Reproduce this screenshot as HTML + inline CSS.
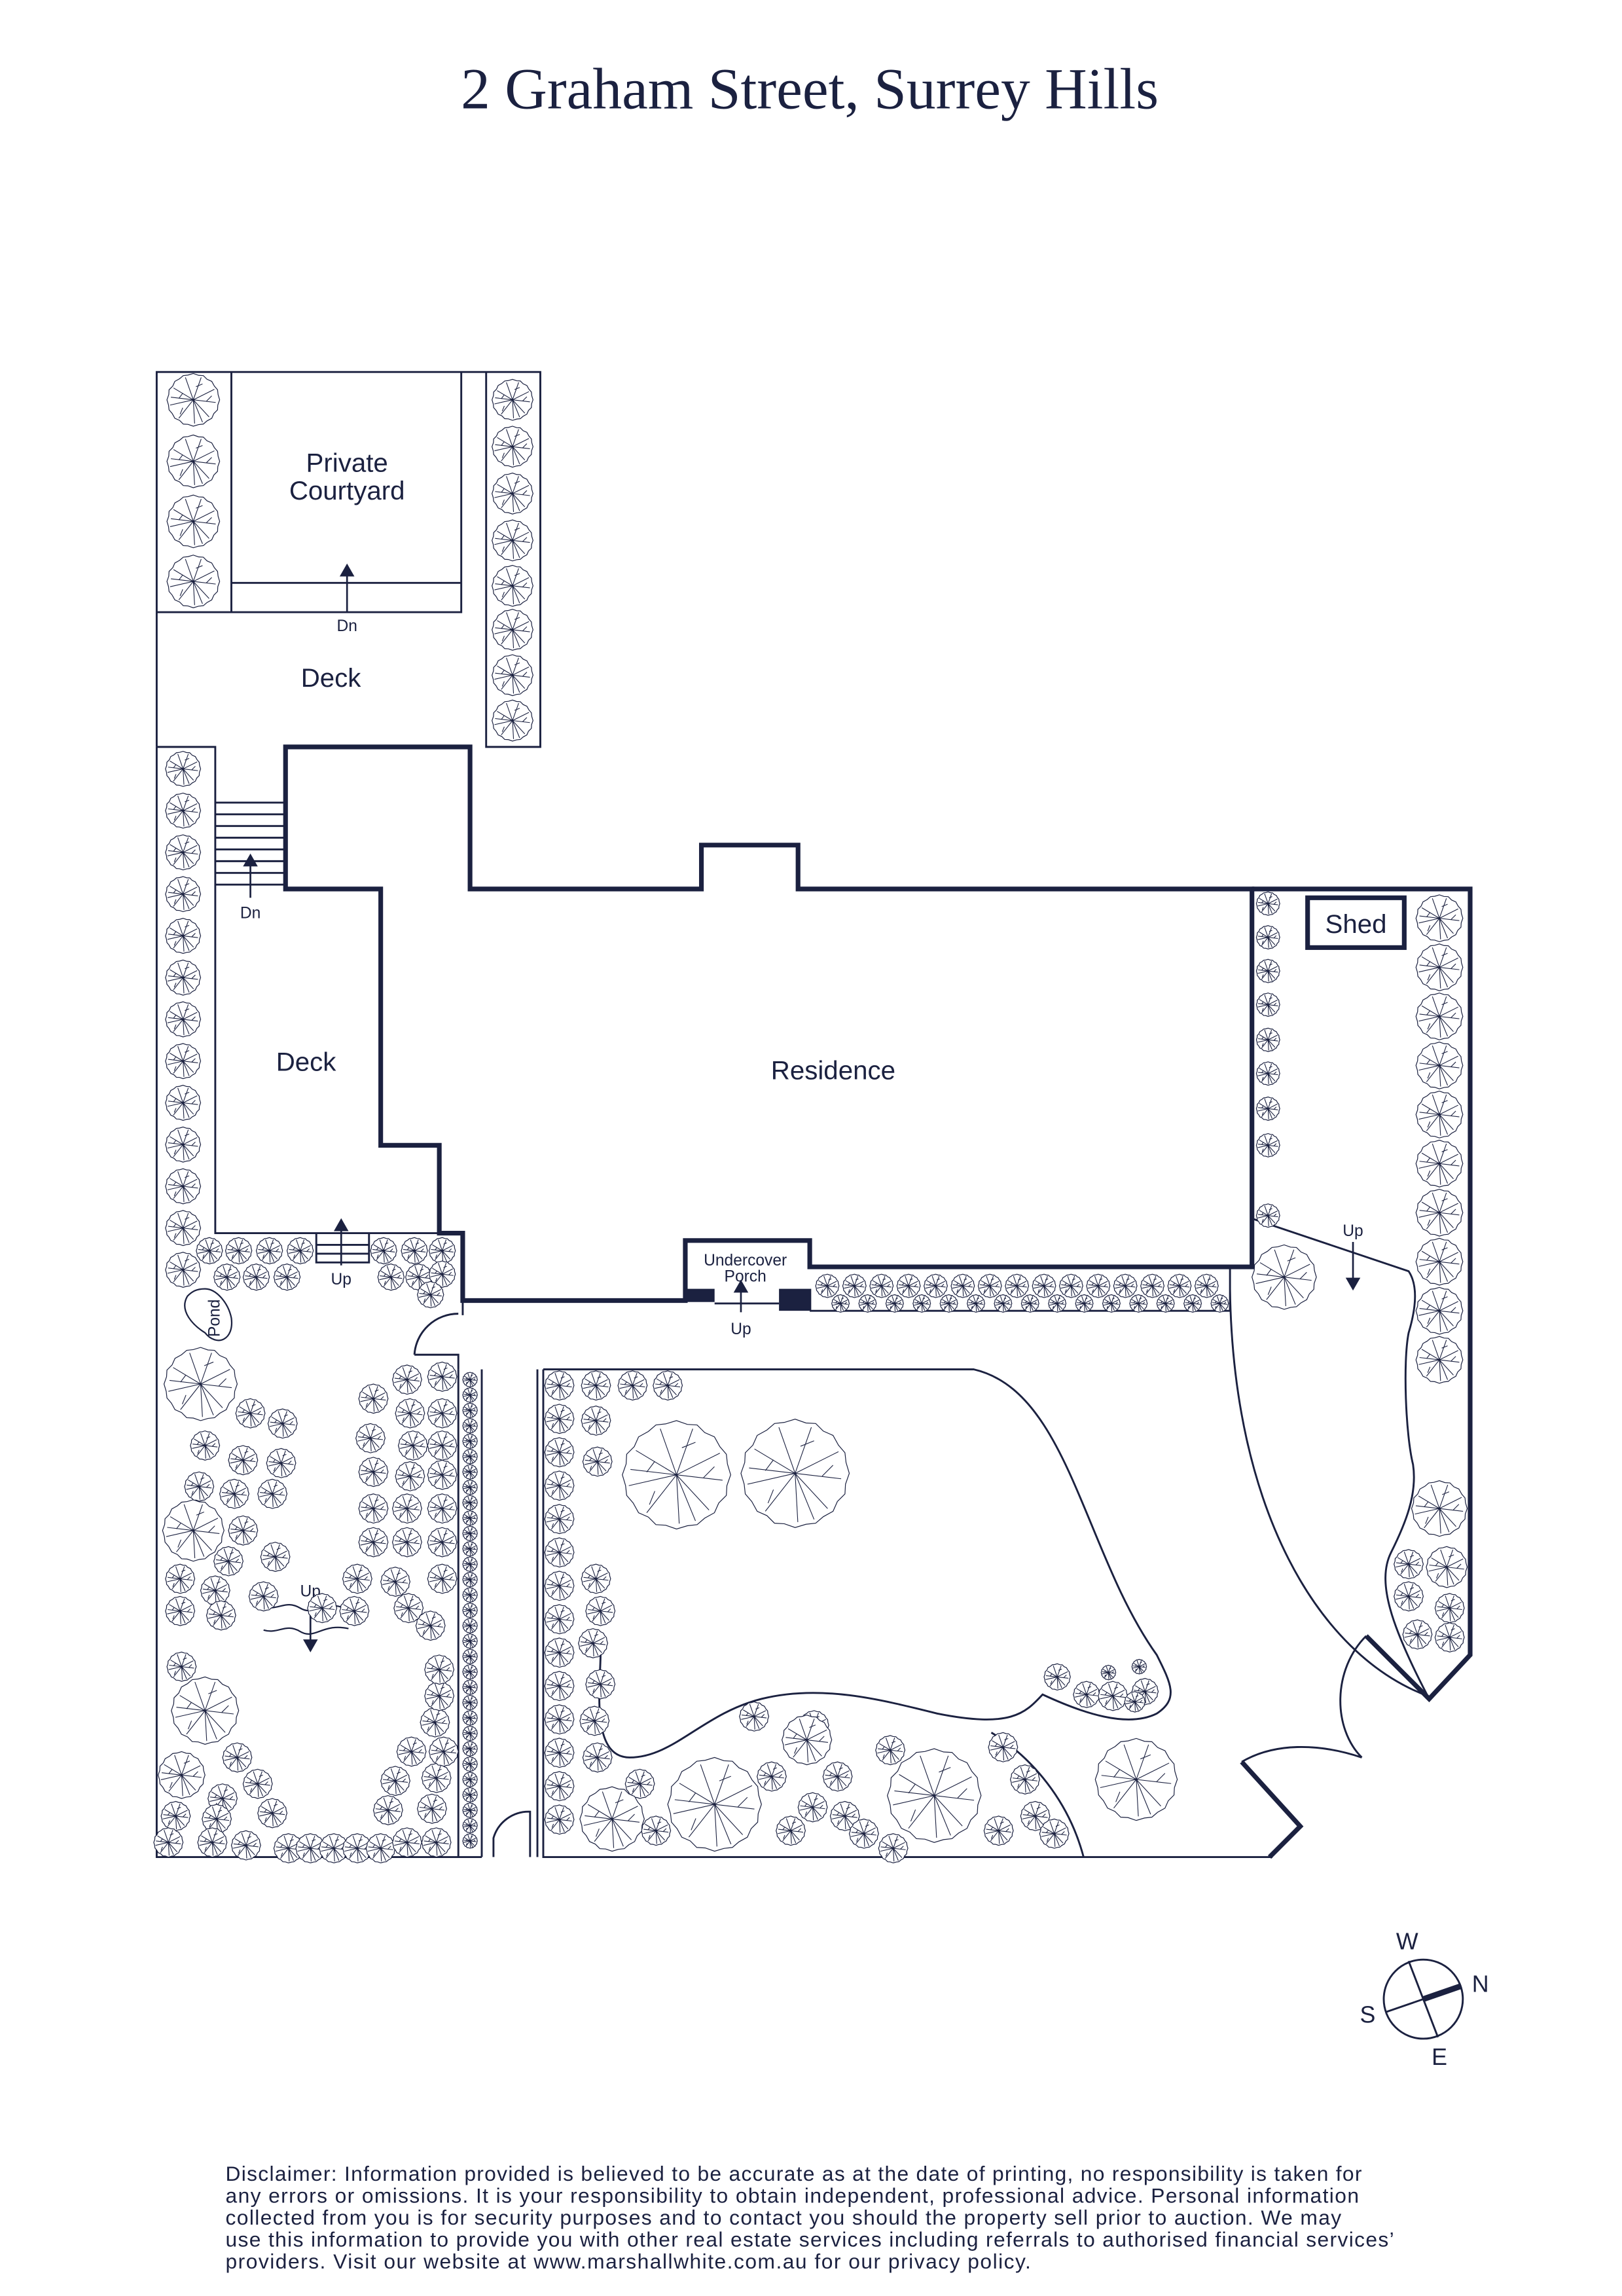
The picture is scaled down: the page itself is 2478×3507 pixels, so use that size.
<!DOCTYPE html>
<html><head><meta charset="utf-8"><style>
html,body{margin:0;padding:0;background:#fff}
svg{display:block}
text{font-family:"Liberation Sans","DejaVu Sans",sans-serif;fill:#1b2140}
</style></head><body>
<svg id="s" xmlns="http://www.w3.org/2000/svg" width="2478" height="3507" viewBox="0 0 1107.7 1567.7">
<defs>
<symbol id="t" viewBox="-1.1 -1.1 2.2 2.2" overflow="visible">
<polygon points="1,0 0.93,0.2 0.92,0.38 0.78,0.52 0.7,0.7 0.52,0.8 0.38,0.92 0.2,0.94 0,1 -0.2,0.93 -0.38,0.92 -0.52,0.78 -0.7,0.7 -0.8,0.52 -0.92,0.38 -0.94,0.2 -1,0 -0.93,-0.2 -0.92,-0.38 -0.78,-0.52 -0.7,-0.7 -0.52,-0.8 -0.38,-0.92 -0.2,-0.94 0,-1 0.2,-0.93 0.38,-0.92 0.52,-0.78 0.7,-0.7 0.8,-0.52 0.92,-0.38 0.94,-0.2" fill="#fff" stroke="#1b2140" stroke-width="1.2" vector-effect="non-scaling-stroke"/>
<path d="M0 0L0.85 0.1M0 0L0.6 0.65M0 0L0.05 0.9M0 0L-0.55 0.7M0 0L-0.88 0.2M0 0L-0.75 -0.45M0 0L-0.3 -0.85M0 0L0.3 -0.85M0 0L0.8 -0.4M0 0L0.35 0.85M0 0L-0.85 -0.1M0.5 0.05L0.7 -0.15M-0.4 0.3L-0.5 0.55M0.1 -0.5L0.35 -0.6M-0.4 -0.25L-0.55 -0.05" stroke="#1b2140" stroke-width="1.1" fill="none" vector-effect="non-scaling-stroke"/>
</symbol>
</defs>
<text x="553" y="74" text-anchor="middle" style="font-family:'Liberation Serif',serif;font-size:40px">2 Graham Street, Surrey Hills</text>

<g fill="none" stroke="#1b2140" stroke-width="1.3">
<path d="M107 510V254H369V510H332V254M158 254V418H315V254M158 398H315M107 418H158"/>
<path d="M107 510H147V842H300M107 510V1268H329M313 935V1268M329 935V1268"/>
<path d="M147 548H195M147 556H195M147 564H195M147 572H195M147 580H195M147 588H195M147 596H195M147 604H195"/>
<path d="M216 842V862H252V842M216 850H252M216 856H252"/>
<path d="M316 888V898M283 925A30 30 0 0 1 313 897M283 925H313V935"/>
<path d="M337 1268V1255A25 25 0 0 1 362 1237V1268"/>
<path d="M367 1268V935M371 935H665C730 950 740 1060 790 1130C800 1150 805 1160 790 1170C770 1180 740 1170 712 1157C700 1170 690 1180 640 1170C600 1160 560 1150 520 1160C480 1170 460 1200 430 1200C400 1200 412 1140 410 1120"/>
<path d="M371 935V1268H869M677 1183C705 1200 730 1230 740 1268"/>
<path d="M553 895H840M840 865V895M840 880C842 1030 900 1130 975 1158"/>
<path d="M855 832L962 868C970 880 965 900 962 910C958 930 960 980 965 1000C968 1020 960 1040 950 1060C940 1080 950 1110 975 1158"/>
<path d="M933 1117C910 1140 910 1180 930 1200M848 1203C870 1190 900 1190 930 1200"/>
<path d="M488 890H532"/>
</g>
<g fill="none" stroke="#1b2140" stroke-width="3.2">
<path d="M195 510H321V607H479V577H545V607H855V865H553V847H468V888H316V842H300V782H260V607H195Z"/>
<path d="M855 607H1004V1130L976 1160L933 1117M848 1203L888 1247L867 1268"/>
<rect x="893" y="613" width="66" height="34"/>
</g>
<rect x="468" y="880" width="20" height="9" fill="#1b2140"/>
<rect x="532" y="880" width="22" height="15" fill="#1b2140"/>
<g stroke="#1b2140" stroke-width="1.2" fill="#1b2140">
<path d="M237 418V390"/><polygon points="233,393 241,393 237,386"/>
<path d="M171 613V588"/><polygon points="167,591 175,591 171,584"/>
<path d="M233 864V838"/><polygon points="229,840 237,840 233,833"/>
<path d="M506 896V880"/><polygon points="502,882 510,882 506,875"/>
<path d="M924 848V875"/><polygon points="920,873 928,873 924,880"/>
<path d="M212 1093V1122"/><polygon points="208,1120 216,1120 212,1127"/>
</g>
<path d="M180 1097C190 1100 195 1092 205 1098C215 1104 220 1092 235 1098M180 1113C190 1116 195 1108 205 1114C215 1120 220 1108 238 1112" fill="none" stroke="#1b2140"/>
<path d="M128 885C122 895 132 905 140 910C148 920 160 915 158 900C156 890 148 880 140 880C134 880 131 882 128 885Z" fill="none" stroke="#1b2140"/>
<text x="150" y="900" font-size="11" text-anchor="middle" transform="rotate(-90 150 900)">Pond</text>

<g font-size="18" text-anchor="middle">
<text x="237" y="322">Private</text><text x="237" y="341">Courtyard</text>
<text x="226" y="469">Deck</text><text x="209" y="731">Deck</text>
<text x="569" y="737">Residence</text><text x="926" y="637">Shed</text>
</g>
<g font-size="11" text-anchor="middle">
<text x="237" y="431">Dn</text><text x="171" y="627">Dn</text><text x="233" y="877">Up</text>
<text x="506" y="911">Up</text><text x="924" y="844">Up</text><text x="212" y="1090">Up</text>
<text x="509" y="864">Undercover</text><text x="509" y="875">Porch</text>
</g>

<g id="trees"></g>

<g stroke="#1b2140" fill="none">
<circle cx="972" cy="1365" r="27" stroke-width="1.3"/>
<path d="M962 1339L982 1391M946 1374L998 1356" stroke-width="1.3"/>
<path d="M972 1365L998 1356" stroke-width="4"/>
</g>
<g font-size="16" text-anchor="middle">
<text x="961" y="1331">W</text><text x="1011" y="1360">N</text><text x="934" y="1381">S</text><text x="983" y="1410">E</text>
</g>
<g font-size="14.2">
<text x="154" y="1489" textLength="776">Disclaimer: Information provided is believed to be accurate as at the date of printing, no responsibility is taken for</text>
<text x="154" y="1504" textLength="774">any errors or omissions. It is your responsibility to obtain independent, professional advice. Personal information</text>
<text x="154" y="1519" textLength="762">collected from you is for security purposes and to contact you should the property sell prior to auction. We may</text>
<text x="154" y="1534" textLength="798">use this information to provide you with other real estate services including referrals to authorised financial services’</text>
<text x="154" y="1549" textLength="550">providers. Visit our website at www.marshallwhite.com.au for our privacy policy.</text>
</g>
</svg>
<script>
var T=[];
function a(x,y,r){T.push([x,y,r]);}
[273,315,356,397].forEach(function(y){a(132,y,18)});
[273,305,337,369,400,430,461,492].forEach(function(y){a(350,y,14)});
for(var y=525;y<=868;y+=28.5)a(125,y,12);
[[143,854],[163,854],[184,854],[205,854],[155,872],[175,872],[196,872],[262,854],[283,854],[302,854],[267,872],[286,872],[302,870],[294,884]].forEach(function(p){a(p[0],p[1],9)});
[617,640,663,686,710,733,757,782,830].forEach(function(y){a(866,y,8)});
for(var y=627;y<=935;y+=33.5)a(983,y,16);
a(983,1030,19);a(962,1068,10);a(988,1070,14);a(962,1090,10);a(990,1098,10);a(968,1116,10);a(990,1118,10);
a(877,872,22);
for(var x=565;x<=832;x+=18.5){a(x,878,8);a(x+9,890,6);}
a(137,945,25);a(132,1045,21);a(140,1168,23);a(124,1212,16);
[[171,965],[193,972],[140,987],[166,997],[192,999],[136,1015],[160,1020],[186,1020],[166,1045],[156,1066],[188,1063],[123,1078],[147,1086],[180,1090],[123,1100],[151,1103],[124,1138],[162,1200],[152,1228],[176,1218],[120,1240],[148,1242],[186,1238],[115,1258],[145,1258],[168,1260],[197,1262],[212,1262],[228,1262],[244,1262],[260,1262],[278,1258],[298,1258],[265,1236],[295,1235],[270,1216],[298,1214],[281,1196],[303,1196],[297,1176],[300,1158],[300,1140],[278,942],[302,940],[255,955],[280,965],[302,965],[253,982],[282,987],[302,987],[255,1005],[280,1008],[302,1007],[255,1030],[278,1030],[302,1030],[255,1053],[278,1053],[302,1053],[244,1078],[270,1080],[302,1078],[279,1098],[294,1110],[242,1100],[220,1098]].forEach(function(p){a(p[0],p[1],10)});
for(var y=942;y<=1262;y+=10.5)a(321,y,5);
for(var y=946;y<=1255;y+=22.8)a(382,y,10);
[[407,946],[432,946],[456,946],[407,970],[408,998],[407,1078],[410,1100],[405,1122],[410,1150],[406,1175],[408,1200],[437,1218],[448,1250],[515,1172],[556,1178],[608,1195],[572,1213],[527,1213],[555,1234],[577,1240],[685,1193],[700,1215],[707,1240],[720,1252],[682,1250],[540,1250],[590,1252],[610,1262]].forEach(function(p){a(p[0],p[1],10)});
a(462,1007,37);a(543,1006,37);a(418,1242,22);a(488,1232,32);a(551,1188,17);a(638,1226,32);a(776,1215,28);
[[722,1145,9],[742,1157,9],[760,1158,10],[782,1155,9],[757,1142,5],[778,1138,5],[775,1162,7]].forEach(function(p){a(p[0],p[1],p[2])});
var g=document.getElementById('trees'),ns='http://www.w3.org/2000/svg';
T.forEach(function(p){var u=document.createElementNS(ns,'use');u.setAttribute('href','#t');u.setAttribute('x',p[0]-p[2]*1.1);u.setAttribute('y',p[1]-p[2]*1.1);u.setAttribute('width',p[2]*2.2);u.setAttribute('height',p[2]*2.2);g.appendChild(u);});
</script>
</body></html>
